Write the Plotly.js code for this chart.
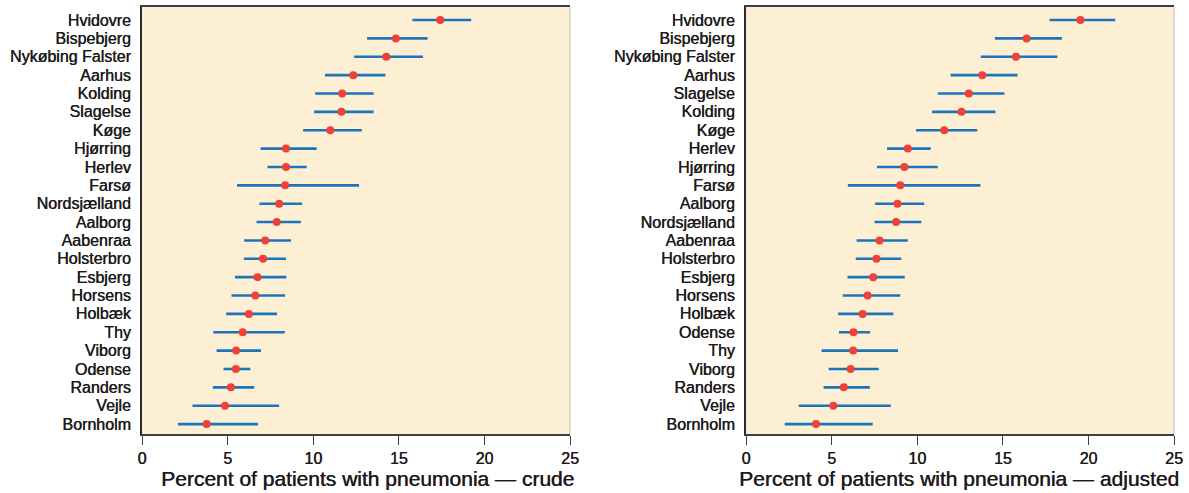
<!DOCTYPE html>
<html>
<head>
<meta charset="utf-8">
<script src="https://cdn.plot.ly/plotly-3.0.1.min.js"></script>
<style>
  html, body { margin: 0; padding: 0; background: #ffffff; }
  #chart { width: 1189px; height: 493px; }
</style>
</head>
<body>
<div id="chart"></div>
<script>
// ---- Crude (left panel), listed top to bottom ----
const crudeHospitals = ["Hvidovre","Bispebjerg","Nykøbing Falster","Aarhus","Kolding","Slagelse","Køge","Hjørring","Herlev","Farsø","Nordsjælland","Aalborg","Aabenraa","Holsterbro","Esbjerg","Horsens","Holbæk","Thy","Viborg","Odense","Randers","Vejle","Bornholm"];
const crudeValue = [17.42,14.83,14.27,12.34,11.69,11.65,11.00,8.41,8.41,8.36,8.01,7.87,7.20,7.07,6.75,6.62,6.24,5.88,5.50,5.48,5.19,4.85,3.78];
const crudeLower = [15.79,13.15,12.39,10.69,10.11,10.06,9.41,6.93,7.33,5.55,6.86,6.69,5.97,5.95,5.43,5.23,4.92,4.16,4.36,4.76,4.14,2.95,2.10];
const crudeUpper = [19.23,16.68,16.41,14.22,13.53,13.53,12.84,10.20,9.62,12.68,9.35,9.28,8.70,8.41,8.43,8.36,7.89,8.34,6.95,6.33,6.55,8.01,6.78];

// ---- Adjusted (right panel), listed top to bottom ----
const adjHospitals = ["Hvidovre","Bispebjerg","Nykøbing Falster","Aarhus","Slagelse","Kolding","Køge","Herlev","Hjørring","Farsø","Aalborg","Nordsjælland","Aabenraa","Holsterbro","Esbjerg","Horsens","Holbæk","Odense","Thy","Viborg","Randers","Vejle","Bornholm"];
const adjValue = [19.53,16.39,15.77,13.80,13.01,12.59,11.58,9.45,9.25,9.01,8.85,8.77,7.80,7.62,7.43,7.10,6.81,6.28,6.26,6.11,5.71,5.10,4.09];
const adjLower = [17.73,14.54,13.71,11.95,11.20,10.87,9.93,8.24,7.65,5.95,7.54,7.51,6.46,6.41,5.93,5.65,5.38,5.43,4.42,4.83,4.53,3.08,2.26];
const adjUpper = [21.57,18.45,18.19,15.86,15.09,14.57,13.51,10.79,11.20,13.69,10.41,10.24,9.45,9.07,9.27,9.01,8.61,7.25,8.88,7.75,7.23,8.46,7.40];

const xTicks = [0,5,10,15,20,25];
const titleCrude = "Percent of patients with pneumonia — crude";
const titleAdj = "Percent of patients with pneumonia — adjusted";

const FONT = "Liberation Sans, Arial, Helvetica, sans-serif";
const TXT = "#1e1b1c";
const SHADOW = "0.45px 0px 0px #1e1b1c";
const BLUE = "#1b75bb";
const RED = "#ef4136";
const BG = "#fdefd3";

function trace(names, vals, lo, hi, xa, ya) {
  return {
    type: "scatter", mode: "markers",
    x: vals, y: names, xaxis: xa, yaxis: ya,
    marker: { color: RED, size: 8, line: { width: 0 } },
    error_x: {
      type: "data", symmetric: false,
      array: vals.map((v, i) => hi[i] - v),
      arrayminus: vals.map((v, i) => v - lo[i]),
      color: BLUE, thickness: 2.6, width: 0
    },
    hoverinfo: "x+y", showlegend: false, cliponaxis: false
  };
}

const xCommon = {
  range: [0, 25], tickmode: "array", tickvals: xTicks, ticktext: xTicks.map(String),
  showgrid: false, zeroline: false,
  showline: true, linecolor: "#3f3f3f", linewidth: 2, mirror: true,
  ticks: "outside", ticklen: 9, tickwidth: 1.2, tickcolor: "#3f3f3f",
  tickfont: { family: FONT, size: 16, color: TXT, shadow: SHADOW }, fixedrange: true
};
const yCommon = {
  type: "category", range: [-0.54, 22.71],
  showgrid: false, zeroline: false,
  showline: true, linecolor: "#2b2b2b", linewidth: 2,
  ticks: "", ticklabelstandoff: 6,
  tickfont: { family: FONT, size: 16, color: TXT, shadow: SHADOW }, fixedrange: true
};

const layout = {
  width: 1189, height: 493,
  margin: { l: 0, r: 0, t: 7, b: 59 },
  paper_bgcolor: "#ffffff", plot_bgcolor: BG,
  font: { family: FONT, color: TXT },
  xaxis: Object.assign({}, xCommon, { domain: [142/1189, 570/1189], anchor: "y" }),
  yaxis: Object.assign({}, yCommon, { domain: [0, 1], anchor: "x",
    categoryorder: "array", categoryarray: crudeHospitals.slice().reverse(),
    tickmode: "array", tickvals: crudeHospitals, ticktext: crudeHospitals }),
  xaxis2: Object.assign({}, xCommon, { domain: [746/1189, 1174/1189], anchor: "y2" }),
  yaxis2: Object.assign({}, yCommon, { domain: [0, 1], anchor: "x2",
    categoryorder: "array", categoryarray: adjHospitals.slice().reverse(),
    tickmode: "array", tickvals: adjHospitals, ticktext: adjHospitals }),
  shapes: [
    { type: "line", xref: "x domain", yref: "y domain", x0: 1, x1: 1, y0: 0, y1: 1,
      line: { color: "#d6cfc7", width: 1.5 } },
    { type: "line", xref: "x2 domain", yref: "y2 domain", x0: 1, x1: 1, y0: 0, y1: 1,
      line: { color: "#d6cfc7", width: 1.5 } }
  ],
  annotations: [
    { text: titleCrude, xref: "paper", yref: "paper", x: 576/1189, y: 0,
      xanchor: "right", yanchor: "middle", yshift: -44, showarrow: false,
      font: { family: FONT, size: 21, color: TXT, shadow: SHADOW } },
    { text: titleAdj, xref: "paper", yref: "paper", x: 1181/1189, y: 0,
      xanchor: "right", yanchor: "middle", yshift: -44, showarrow: false,
      font: { family: FONT, size: 21, color: TXT, shadow: SHADOW } }
  ],
  hovermode: "closest"
};

Plotly.newPlot("chart", [
  trace(crudeHospitals, crudeValue, crudeLower, crudeUpper, "x", "y"),
  trace(adjHospitals, adjValue, adjLower, adjUpper, "x2", "y2")
], layout, { displayModeBar: false, staticPlot: false });
</script>
</body>
</html>
